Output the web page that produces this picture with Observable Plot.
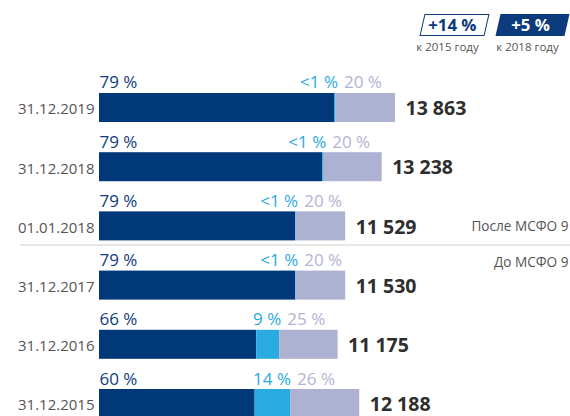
<!DOCTYPE html>
<html>
<head>
<meta charset="utf-8">
<script src="https://cdn.jsdelivr.net/npm/d3@7"></script>
<script src="https://cdn.jsdelivr.net/npm/@observablehq/plot@0.6"></script>
<style>
  html, body { margin: 0; padding: 0; overflow: hidden; background: #fff; }
  body { width: 570px; height: 416px; font-family: 'Open Sans', sans-serif; }
  #head { position: relative; height: 60px; }
  .badge { position: absolute; top: 14px; height: 22px; box-sizing: border-box; transform: skewX(-12.8deg); }
  .badge span { display: block; transform: skewX(12.8deg); text-align: center; font-weight: 700; font-size: 16.8px; line-height: 20px; }
  .cap { position: absolute; top: 40px; width: 90px; text-align: center; font-size: 11.5px; line-height: 14px; color: #555; }
</style>
</head>
<body>
<div id="head"></div>
<div id="chart"></div>
<script>
// ---- data ----
const dates = ["31.12.2019", "31.12.2018", "01.01.2018", "31.12.2017", "31.12.2016", "31.12.2015"];
const totals = [13863, 13238, 11529, 11530, 11175, 12188];
const shareA = [79.4, 79.0, 79.7, 79.7, 65.9, 59.8];
const shareB = [0.5, 0.5, 0.2, 0.2, 9.6, 13.8];
const shareC = [20.1, 20.5, 20.1, 20.1, 24.5, 26.4];
const labelA = ["79 %", "79 %", "79 %", "79 %", "66 %", "60 %"];
const labelB = ["<1 %", "<1 %", "<1 %", "<1 %", "9 %", "14 %"];
const labelC = ["20 %", "20 %", "20 %", "20 %", "25 %", "26 %"];
const noteDates = ["01.01.2018", "31.12.2017"];
const noteTexts = ["После МСФО 9", "До МСФО 9"];
const growthLabels = ["+14 %", "+5 %"];
const growthBases = ["к 2015 году", "к 2018 году"];

const segNames = ["A", "B", "C"];
const segColors = ["#00387a", "#29abe2", "#aeb2d2"];
const labelColors = ["#0d3c7c", "#29a9e1", "#b1b4d4"];
const navy = "#0b3a7d";

// ---- header badges ----
const head = document.getElementById("head");
const badgeGeom = [{left: 421.5, width: 64.5, filled: false, capLeft: 402.5},
                   {left: 497.5, width: 69, filled: true, capLeft: 482.5}];
growthLabels.forEach((g, i) => {
  const b = document.createElement("div");
  b.className = "badge";
  b.style.left = badgeGeom[i].left + "px";
  b.style.width = badgeGeom[i].width + "px";
  if (badgeGeom[i].filled) { b.style.background = navy; }
  else { b.style.background = "#fff"; b.style.border = "1.5px solid " + navy; }
  const s = document.createElement("span");
  s.textContent = g;
  s.style.color = badgeGeom[i].filled ? "#fff" : navy;
  s.style.marginLeft = "-4px";
  s.style.lineHeight = badgeGeom[i].filled ? "22px" : "19px";
  b.appendChild(s);
  head.appendChild(b);
  const c = document.createElement("div");
  c.className = "cap";
  c.style.left = badgeGeom[i].capLeft + "px";
  c.textContent = growthBases[i];
  head.appendChild(c);
});

// ---- tables ----
const rows = dates.map((d, i) => ({
  date: d, total: totals[i],
  a: totals[i] * shareA[i] / 100,
  b: totals[i] * shareB[i] / 100,
  c: totals[i] * shareC[i] / 100,
  la: labelA[i], lb: labelB[i], lc: labelC[i],
  small: labelB[i].startsWith("<")
}));
const segments = rows.flatMap(r => [
  {date: r.date, segment: "A", value: r.a},
  {date: r.date, segment: "B", value: r.b},
  {date: r.date, segment: "C", value: r.c}
]);
const notes = noteDates.map((d, i) => ({date: d, text: noteTexts[i]}));

const fmt = d3.formatLocale({decimal: ",", thousands: "\u00a0", grouping: [3], currency: ["", ""]}).format(",");

const pctFont = 17;
const ctx = document.createElement("canvas").getContext("2d");
ctx.font = pctFont + "px 'Open Sans'";
const tw = s => ctx.measureText(s).width;

const bandHalf = 14.5;
const pctDy = -(bandHalf + 5);
const gap = 6;

const lavMarks = rows.map(r => Plot.text([r], {
  x: d => r.small ? d.a + d.b : d.a + d.b / 2,
  y: "date",
  text: "lc",
  textAnchor: "start",
  lineAnchor: "bottom",
  dy: pctDy,
  dx: r.small ? 2 + gap : -1 + tw(r.lb) / 2 + gap,
  fill: labelColors[2],
  fontSize: pctFont
}));

const chart = Plot.plot({
  width: 570,
  height: 356,
  marginLeft: 20,
  marginRight: 0,
  marginTop: 0,
  marginBottom: 0,
  style: {fontFamily: "'Open Sans', sans-serif", background: "transparent", overflow: "visible"},
  x: {domain: [0, d3.max(totals)], range: [99, 395], axis: null},
  y: {domain: dates, range: [2.8, 388.2], paddingInner: 0.51, paddingOuter: 0.51, align: 0.5, round: false, axis: null},
  color: {domain: segNames, range: segColors},
  marks: [
    Plot.barX(segments, {x: "value", y: "date", fill: "segment"}),
    Plot.ruleY([noteDates[0]], {y: d => d, dy: 18.6, stroke: "#cfcfcf", strokeWidth: 1}),
    Plot.text(rows, {x: 0, y: "date", text: "date", textAnchor: "end", dx: -5, dy: 1.5, fill: "#555", fontSize: 15}),
    Plot.text(rows, {x: "total", y: "date", text: d => fmt(d.total), textAnchor: "start", dx: 10, dy: 1, fill: "#2e2e2e", fontSize: 19.5, fontWeight: "bold"}),
    Plot.text(rows, {x: 0, y: "date", text: "la", textAnchor: "start", lineAnchor: "bottom", dy: pctDy, fill: labelColors[0], fontSize: pctFont}),
    Plot.text(rows.filter(r => r.small), {x: d => d.a + d.b, y: "date", text: "lb", textAnchor: "end", lineAnchor: "bottom", dx: 2, dy: pctDy, fill: labelColors[1], fontSize: pctFont}),
    Plot.text(rows.filter(r => !r.small), {x: d => d.a + d.b / 2, y: "date", text: "lb", textAnchor: "middle", lineAnchor: "bottom", dx: -1, dy: pctDy, fill: labelColors[1], fontSize: pctFont}),
    ...lavMarks,
    Plot.text(notes.slice(0, 1), {y: "date", text: "text", frameAnchor: "right", textAnchor: "end", dx: -2, dy: 0.5, fill: "#555", fontSize: 13.6}),
    Plot.text(notes.slice(1), {y: "date", text: "text", frameAnchor: "right", textAnchor: "end", lineAnchor: "bottom", dx: -2, dy: -18.5, fill: "#555", fontSize: 13.6})
  ]
});
document.getElementById("chart").appendChild(chart);
</script>
</body>
</html>
